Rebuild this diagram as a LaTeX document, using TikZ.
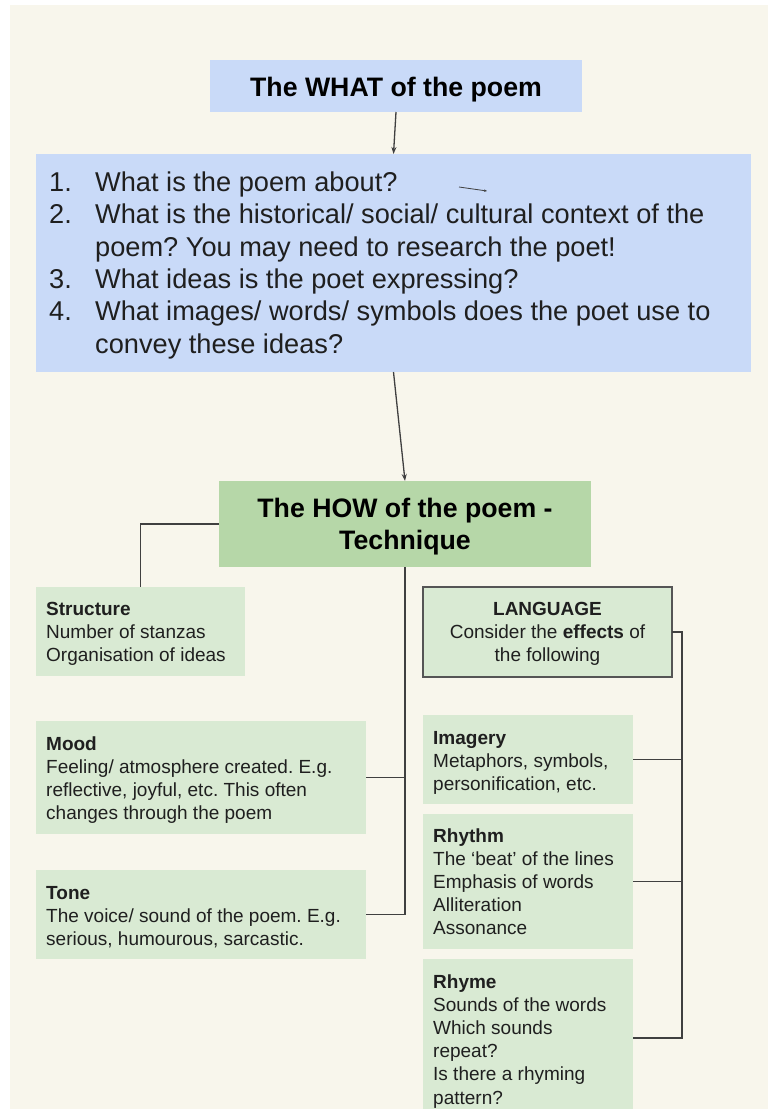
\documentclass[tikz,border=0pt]{standalone}
\usepackage{fontspec}
\setmainfont{Liberation Sans}
\usetikzlibrary{arrows.meta}
\frenchspacing
\definecolor{bg}{HTML}{F8F6EC}
\definecolor{blu}{HTML}{C9DAF8}
\definecolor{grn}{HTML}{B6D7A8}
\definecolor{lgrn}{HTML}{D9EAD3}
\definecolor{ln}{HTML}{404040}
\definecolor{bord}{HTML}{555555}
\definecolor{txtc}{HTML}{1F1F1F}
\begin{document}
\begin{tikzpicture}[x=1pt,y=-1pt,
  box/.style={rectangle, inner sep=0pt, outer sep=0pt, anchor=north west, draw=none},
  conn/.style={draw=ln, line width=1.3pt},
  arr/.style={conn, -{Stealth[length=7pt,width=5pt]}},
  small/.style={font=\fontsize{19}{23.2}\selectfont\frenchspacing, text=txtc, inner sep=0pt, align=left, anchor=base west},
  bigtitle/.style={font=\fontsize{26.7}{32}\selectfont\bfseries, text=black, inner sep=0pt, align=center, anchor=base},
  listtxt/.style={font=\fontsize{27.2}{32.3}\selectfont\frenchspacing, text=txtc, inner sep=0pt, align=left, anchor=base west}]
\useasboundingbox (0,0) rectangle (768,1109);
\fill[white] (0,0) rectangle (768,1109);
\fill[bg] (10,5) rectangle (768,1109);

% boxes
\node[box, fill=blu, minimum width=372pt, minimum height=52pt] (what) at (210,60) {};
\node[box, fill=blu, minimum width=715pt, minimum height=218pt] (list) at (36,154) {};
\node[box, fill=grn, minimum width=372pt, minimum height=86pt] (how) at (219,481) {};
\node[box, fill=lgrn, minimum width=209pt, minimum height=89pt] (struct) at (36,587) {};
\node[box, fill=lgrn, draw=bord, line width=1.2pt, minimum width=249pt, minimum height=90pt] (lang) at (423,587) {};
\node[box, fill=lgrn, minimum width=330pt, minimum height=113pt] (mood) at (36,721) {};
\node[box, fill=lgrn, minimum width=330pt, minimum height=89pt] (tone) at (36,870) {};
\node[box, fill=lgrn, minimum width=210pt, minimum height=89pt] (imag) at (423,715) {};
\node[box, fill=lgrn, minimum width=210pt, minimum height=135pt] (rhythm) at (423,814) {};
\node[box, fill=lgrn, minimum width=210pt, minimum height=158pt] (rhyme) at (423,959) {};

% texts (base anchor = baseline of last line)
\node[bigtitle] (twhat) at (396,96.5) {The WHAT of the poem};
\node[listtxt] (tlist) at (49,353) {\makebox[46pt][l]{1.}What is the poem about?\\
\makebox[46pt][l]{2.}What is the historical/ social/ cultural context of the\\
\hspace*{46pt}poem? You may need to research the poet!\\
\makebox[46pt][l]{3.}What ideas is the poet expressing?\\
\makebox[46pt][l]{4.}What images/ words/ symbols does the poet use to\\
\hspace*{46pt}convey these ideas?};
\node[bigtitle] (thow) at (405,549.5) {The HOW of the poem -\\Technique};
\node[small] (tstruct) at (46,661.4) {\textbf{Structure}\\Number of stanzas\\Organisation of ideas};
\node[small, align=center, anchor=base] (tlang) at (547.5,661.4) {\textbf{LANGUAGE}\\Consider the \textbf{effects} of\\the following};
\node[small] (tmood) at (46,819.6) {\textbf{Mood}\\Feeling/ atmosphere created. E.g.\\reflective, joyful, etc. This often\\changes through the poem};
\node[small] (ttone) at (46,945.4) {\textbf{Tone}\\The voice/ sound of the poem. E.g.\\serious, humourous, sarcastic.};
\node[small] (timag) at (433,790.4) {\textbf{Imagery}\\Metaphors, symbols,\\personification, etc.};
\node[small] (trhythm) at (433,934.8) {\textbf{Rhythm}\\The `beat' of the lines\\Emphasis of words\\Alliteration\\Assonance};
\node[small] (trhyme) at (433,1104) {\textbf{Rhyme}\\Sounds of the words\\Which sounds\\repeat?\\Is there a rhyming\\pattern?};

% connectors
\draw[arr] (what.south) -- (list.north);
\draw[arr] (list.south) -- (how.north);
\coordinate (s1) at (459,187);
\coordinate (s2) at (487,191);
\draw[draw=ln, line width=0.8pt, -{Stealth[length=3pt,width=2.5pt]}] (s1) -- (s2);
\draw[conn] (how.west) -| (struct.north);
\draw[conn] (how.south) |- (tone.east);
\draw[conn] (mood.east) -- (mood.east -| how.south);
\coordinate (rbus) at (682,632);
\draw[conn] (lang.east) -- (rbus) |- (rhyme.east);
\draw[conn] (imag.east) -- (imag.east -| rbus);
\draw[conn] (rhythm.east) -- (rhythm.east -| rbus);
\end{tikzpicture}
\end{document}
